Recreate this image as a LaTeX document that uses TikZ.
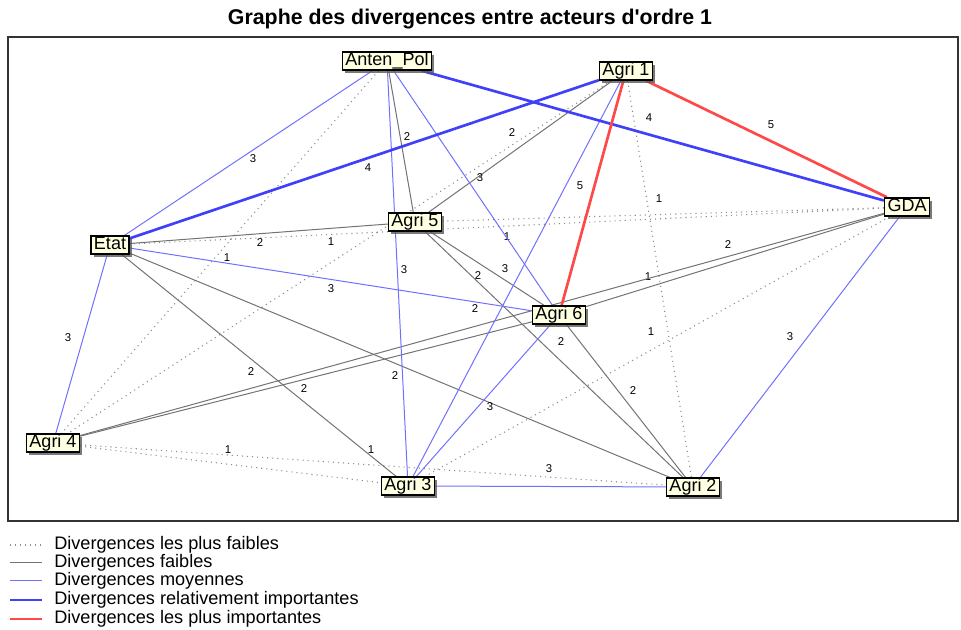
\documentclass[tikz,border=0pt]{standalone}
\usepackage{fontspec}
\setmainfont{Liberation Sans}[Ligatures=TeXOff]
\usetikzlibrary{shadows}
\pgfdeclarelayer{bg}
\pgfsetlayers{bg,main}
\definecolor{moyblue}{RGB}{112,112,255}
\definecolor{fortblue}{RGB}{64,64,250}
\definecolor{fortred}{RGB}{255,72,72}
\definecolor{boxfill}{RGB}{255,255,225}
\begin{document}
\begin{tikzpicture}[x=0.75pt,y=-0.75pt,
    actor/.style={draw,line width=1pt,fill=boxfill,inner xsep=2.2pt,inner ysep=0.3pt,
      text height=10pt,text depth=3pt,font=\fontsize{13.5}{15}\selectfont,
      drop shadow={shadow xshift=2.2pt,shadow yshift=-2.2pt,fill=black!65,opacity=0.8}},
    tresfaible/.style={black!45,line width=0.8pt,dash pattern=on 0.8pt off 3pt},
    faible/.style={black!55,line width=0.75pt},
    moyenne/.style={moyblue,line width=0.75pt},
    forte/.style={fortblue,line width=2pt},
    tresforte/.style={fortred,line width=2pt},
    lbl/.style={text=black,font=\fontsize{8.5}{9}\selectfont,inner sep=0pt},
    legtxt/.style={font=\fontsize{13.6}{15}\selectfont,inner sep=0pt,anchor=west}]
  \useasboundingbox (0,0) rectangle (961,630);
  \node[font=\fontsize{16}{18}\bfseries\selectfont] (titre) at (470,19) {Graphe des divergences entre acteurs d'ordre 1};
  \draw[black!80,line width=0.9pt] (8,37) rectangle (958,521);

  \node[actor] (anten) at (387,61) {Anten\_Pol};
  \node[actor] (agri1) at (626,71) {Agri 1};
  \node[actor] (gda) at (907,207) {GDA};
  \node[actor] (agri5) at (415,222) {Agri 5};
  \node[actor] (etat) at (110,245) {Etat};
  \node[actor] (agri6) at (559,315) {Agri 6};
  \node[actor] (agri4) at (53,443) {Agri 4};
  \node[actor] (agri3) at (408,486) {Agri 3};
  \node[actor] (agri2) at (693,487) {Agri 2};

  \begin{pgfonlayer}{bg}
    \draw[tresfaible] (anten) -- (agri4) node[lbl] at (227,258) {1};
    \draw[tresfaible] (agri1) -- (agri4) node[lbl] at (331,242) {1};
    \draw[tresfaible] (agri1) -- (agri2) node[lbl] at (648,277) {1};
    \draw[tresfaible] (gda) -- (agri5) node[lbl] at (659,199) {1};
    \draw[tresfaible] (gda) -- (etat) node[lbl] at (507,237) {1};
    \draw[tresfaible] (gda) -- (agri3) node[lbl] at (651,332) {1};
    \draw[tresfaible] (agri4) -- (agri3) node[lbl] at (228,450) {1};
    \draw[tresfaible] (agri4) -- (agri2) node[lbl] at (371,450) {1};

    \draw[faible] (anten) -- (agri5) node[lbl] at (407,137) {2};
    \draw[faible] (agri1) -- (agri5) node[lbl] at (512,133) {2};
    \draw[faible] (gda) -- (agri6) node[lbl] at (728,245) {2};
    \draw[faible] (gda) -- (agri4) node[lbl] at (475,309) {2};
    \draw[faible] (agri5) -- (etat) node[lbl] at (260,243) {2};
    \draw[faible] (agri5) -- (agri6) node[lbl] at (478,276) {2};
    \draw[faible] (agri5) -- (agri2) node[lbl] at (561,342) {2};
    \draw[faible] (etat) -- (agri3) node[lbl] at (251,372) {2};
    \draw[faible] (etat) -- (agri2) node[lbl] at (395,376) {2};
    \draw[faible] (agri6) -- (agri4) node[lbl] at (304,389) {2};
    \draw[faible] (agri6) -- (agri2) node[lbl] at (633,391) {2};

    \draw[moyenne] (anten) -- (etat) node[lbl] at (253,159) {3};
    \draw[moyenne] (anten) -- (agri6) node[lbl] at (480,178) {3};
    \draw[moyenne] (anten) -- (agri3) node[lbl] at (404,270) {3};
    \draw[moyenne] (agri1) -- (agri3) node[lbl] at (505,269) {3};
    \draw[moyenne] (gda) -- (agri2) node[lbl] at (790,337) {3};
    \draw[moyenne] (etat) -- (agri6) node[lbl] at (331,289) {3};
    \draw[moyenne] (etat) -- (agri4) node[lbl] at (68,338) {3};
    \draw[moyenne] (agri6) -- (agri3) node[lbl] at (490,407) {3};
    \draw[moyenne] (agri3) -- (agri2) node[lbl] at (549,469) {3};

    \draw[forte] (anten) -- (gda) node[lbl] at (649,118) {4};
    \draw[forte] (agri1) -- (etat) node[lbl] at (368,168) {4};

    \draw[tresforte] (agri1) -- (gda) node[lbl] at (771,125) {5};
    \draw[tresforte] (agri1) -- (agri6) node[lbl] at (580,186) {5};
  \end{pgfonlayer}

  \node[legtxt] (leg1) at (54,545) {Divergences les plus faibles};
  \node[legtxt] (leg2) at (54,563) {Divergences faibles};
  \node[legtxt] (leg3) at (54,581) {Divergences moyennes};
  \node[legtxt] (leg4) at (54,600) {Divergences relativement importantes};
  \node[legtxt] (leg5) at (54,619) {Divergences les plus importantes};
  \draw[tresfaible] (10,545) -- (42,545);
  \draw[faible] (10,563) -- (42,563);
  \draw[moyenne] (10,581) -- (42,581);
  \draw[forte] (10,600) -- (42,600);
  \draw[tresforte] (10,619) -- (42,619);
\end{tikzpicture}
\end{document}
